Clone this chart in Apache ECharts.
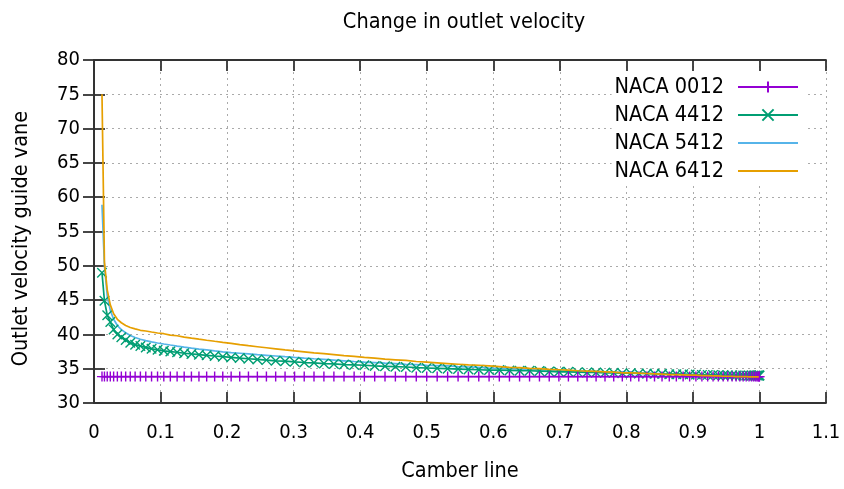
<!DOCTYPE html>
<html>
<head>
<meta charset="utf-8">
<script src="https://cdn.jsdelivr.net/npm/echarts@6/dist/echarts.min.js"></script>
<style>
  html, body { margin: 0; padding: 0; background: #fff; }
  #chart { width: 844px; height: 489px; }
</style>
</head>
<body>
<div id="chart"></div>
<script>
// camber line positions (dense at both ends)
var camber = [
  0.0120, 0.0157, 0.0199, 0.0245, 0.0295, 0.0351, 0.0411, 0.0476, 0.0545, 0.0618,
  0.0697, 0.0778, 0.0865, 0.0955, 0.1049, 0.1147, 0.1249, 0.1355, 0.1464, 0.1577,
  0.1693, 0.1813, 0.1935, 0.2061, 0.2190, 0.2321, 0.2455, 0.2591, 0.2730, 0.2871,
  0.3014, 0.3159, 0.3306, 0.3455, 0.3605, 0.3757, 0.3909, 0.4063, 0.4218, 0.4373,
  0.4529, 0.4686, 0.4843, 0.5000, 0.5157, 0.5314, 0.5471, 0.5627, 0.5782, 0.5937,
  0.6091, 0.6243, 0.6395, 0.6545, 0.6694, 0.6841, 0.6986, 0.7129, 0.7270, 0.7409,
  0.7545, 0.7679, 0.7810, 0.7939, 0.8065, 0.8187, 0.8307, 0.8423, 0.8536, 0.8645,
  0.8751, 0.8853, 0.8951, 0.9045, 0.9135, 0.9222, 0.9303, 0.9382, 0.9455, 0.9524,
  0.9589, 0.9649, 0.9705, 0.9755, 0.9801, 0.9843, 0.9880, 0.9911, 0.9938, 0.9961,
  0.9978, 0.9990, 0.9998, 1.0000
];

var naca0012 = [
  33.85, 33.85, 33.85, 33.85, 33.85, 33.85, 33.85, 33.85, 33.85, 33.85,
  33.85, 33.85, 33.85, 33.85, 33.85, 33.85, 33.85, 33.85, 33.85, 33.85,
  33.85, 33.85, 33.85, 33.85, 33.85, 33.85, 33.85, 33.85, 33.85, 33.85,
  33.85, 33.85, 33.85, 33.85, 33.85, 33.85, 33.85, 33.85, 33.85, 33.85,
  33.85, 33.85, 33.85, 33.85, 33.85, 33.85, 33.85, 33.85, 33.85, 33.85,
  33.85, 33.85, 33.85, 33.85, 33.85, 33.85, 33.85, 33.85, 33.85, 33.85,
  33.85, 33.85, 33.85, 33.85, 33.85, 33.85, 33.85, 33.85, 33.85, 33.85,
  33.85, 33.85, 33.85, 33.85, 33.85, 33.85, 33.85, 33.85, 33.85, 33.85,
  33.85, 33.85, 33.85, 33.85, 33.85, 33.85, 33.85, 33.85, 33.85, 33.85,
  33.85, 33.85, 33.85, 33.85
];

var naca4412 = [
  49.0, 44.9, 42.8, 41.8, 40.7, 40.0, 39.6, 39.2, 38.8, 38.5,
  38.3, 38.1, 37.9, 37.75, 37.6, 37.5, 37.4, 37.25, 37.15, 37.05,
  36.95, 36.85, 36.75, 36.65, 36.55, 36.45, 36.35, 36.25, 36.15, 36.1,
  36.0, 35.9, 35.85, 35.75, 35.7, 35.6, 35.55, 35.5, 35.4, 35.35,
  35.3, 35.25, 35.15, 35.1, 35.05, 35.0, 34.95, 34.9, 34.85, 34.8,
  34.8, 34.75, 34.7, 34.7, 34.65, 34.6, 34.55, 34.55, 34.5, 34.45,
  34.45, 34.4, 34.4, 34.35, 34.35, 34.3, 34.3, 34.25, 34.25, 34.2,
  34.2, 34.2, 34.15, 34.15, 34.1, 34.1, 34.1, 34.05, 34.05, 34.05,
  34.05, 34.0, 34.0, 34.0, 34.0, 34.0, 34.0, 34.0, 34.0, 34.0,
  34.0, 34.0, 34.0, 34.0
];

var naca5412 = [
  58.9, 50.0, 45.6, 43.5, 42.2, 41.3, 40.7, 40.25, 39.85, 39.55,
  39.3, 39.1, 38.9, 38.75, 38.6, 38.45, 38.3, 38.15, 38.0, 37.85,
  37.75, 37.6, 37.45, 37.35, 37.25, 37.15, 37.05, 36.95, 36.85, 36.75,
  36.65, 36.55, 36.45, 36.35, 36.25, 36.15, 36.05, 35.95, 35.9, 35.8,
  35.75, 35.65, 35.6, 35.5, 35.45, 35.4, 35.3, 35.25, 35.2, 35.1,
  35.05, 35.0, 34.95, 34.9, 34.85, 34.8, 34.75, 34.7, 34.65, 34.6,
  34.6, 34.55, 34.5, 34.45, 34.45, 34.4, 34.35, 34.3, 34.3, 34.25,
  34.2, 34.2, 34.15, 34.15, 34.1, 34.1, 34.05, 34.05, 34.0, 34.0,
  34.0, 33.95, 33.95, 33.95, 33.95, 33.9, 33.9, 33.9, 33.9, 33.9,
  33.9, 33.9, 33.9, 33.9
];

var naca6412 = [
  75.0, 50.5, 46.5, 44.3, 43.0, 42.2, 41.7, 41.3, 41.0, 40.8,
  40.6, 40.5, 40.35, 40.2, 40.1, 39.9, 39.8, 39.6, 39.45, 39.3,
  39.15, 39.0, 38.85, 38.7, 38.5, 38.35, 38.2, 38.05, 37.9, 37.75,
  37.6, 37.45, 37.3, 37.2, 37.05, 36.9, 36.8, 36.65, 36.55, 36.4,
  36.3, 36.2, 36.05, 35.95, 35.85, 35.75, 35.65, 35.55, 35.5, 35.4,
  35.3, 35.2, 35.15, 35.05, 35.0, 34.9, 34.85, 34.8, 34.7, 34.65,
  34.6, 34.55, 34.5, 34.4, 34.4, 34.35, 34.3, 34.25, 34.2, 34.15,
  34.15, 34.1, 34.05, 34.05, 34.0, 34.0, 33.95, 33.95, 33.9, 33.9,
  33.9, 33.85, 33.85, 33.85, 33.85, 33.8, 33.8, 33.8, 33.8, 33.8,
  33.8, 33.8, 33.8, 33.8
];

var names = ['NACA 0012', 'NACA 4412', 'NACA 5412', 'NACA 6412'];
var colors = ['#9400d3', '#009e73', '#56b4e9', '#e69f00'];

var FONT = "'DejaVu Sans Condensed', 'DejaVu Sans', sans-serif";
var PLUS = 'path://M5,0L5,10M0,5L10,5';
var CROSS = 'path://M0,0L10,10M10,0L0,10';

function pairs(ys) {
    var out = [];
    for (var i = 0; i < camber.length; i++) {
        out.push([camber[i], ys[i]]);
    }
    return out;
}

function tickLbl(v) {
    return String(Math.round(v * 10) / 10);
}

var axisLine = { lineStyle: { color: '#333', width: 1.8 } };
var axisTick = { inside: true, length: 11, lineStyle: { color: '#333', width: 1.8 } };
var gridLine = { show: true, lineStyle: { color: '#aaa', width: 1, type: [2, 4] } };

var chart = echarts.init(document.getElementById('chart'));
var option = {
    animation: false,
    color: colors,
    title: {
        text: 'Change in outlet velocity',
        left: 459,
        top: 6,
        textAlign: 'center',
        textStyle: { fontFamily: FONT, fontSize: 21.5, fontWeight: 'normal', color: '#000' }
    },
    legend: {
        orient: 'vertical',
        right: 38,
        top: 72,
        align: 'right',
        itemWidth: 60,
        itemHeight: 14,
        itemGap: 6,
        backgroundColor: '#fff',
        padding: [4, 7, 4, 3],
        textStyle: { fontFamily: FONT, fontSize: 21.5, color: '#000', padding: [0, 9, 0, 0] },
        data: [
            names[0],
            names[1],
            { name: names[2], itemStyle: { opacity: 0 } },
            { name: names[3], itemStyle: { opacity: 0 } }
        ]
    },
    grid: { left: 94, right: 18, top: 60, bottom: 86 },
    xAxis: [
        {
            type: 'value', min: 0, max: 1.1, interval: 0.1,
            name: 'Camber line', nameLocation: 'middle', nameGap: 57,
            nameTextStyle: { fontFamily: FONT, fontSize: 21.5, color: '#000' },
            axisLine: axisLine, axisTick: axisTick, splitLine: gridLine,
            axisLabel: { formatter: tickLbl, margin: 20, fontFamily: FONT, fontSize: 20, color: '#000' }
        },
        {
            type: 'value', position: 'top', min: 0, max: 1.1, interval: 0.1,
            axisLine: axisLine, axisTick: axisTick, splitLine: { show: false },
            axisLabel: { show: false }
        }
    ],
    yAxis: [
        {
            type: 'value', min: 30, max: 80, interval: 5,
            name: 'Outlet velocity guide vane', nameLocation: 'middle', nameGap: 62,
            nameTextStyle: { fontFamily: FONT, fontSize: 21.5, color: '#000', padding: [0, 14, 0, 0] },
            axisLine: axisLine, axisTick: axisTick, splitLine: gridLine,
            axisLabel: { margin: 14, fontFamily: FONT, fontSize: 20, color: '#000' }
        },
        {
            type: 'value', position: 'right', min: 30, max: 80, interval: 5,
            axisLine: axisLine, axisTick: axisTick, splitLine: { show: false },
            axisLabel: { show: false }
        }
    ],
    series: [
        {
            name: names[0], type: 'line', data: pairs(naca0012),
            symbol: PLUS, symbolSize: 10,
            lineStyle: { width: 1.7, color: colors[0] },
            itemStyle: { color: colors[0], borderColor: colors[0], borderWidth: 1.4 },
            z: 4
        },
        {
            name: names[1], type: 'line', data: pairs(naca4412),
            symbol: CROSS, symbolSize: 9.5,
            lineStyle: { width: 1.7, color: colors[1] },
            itemStyle: { color: colors[1], borderColor: colors[1], borderWidth: 1.4 },
            z: 3
        },
        {
            name: names[2], type: 'line', data: pairs(naca5412),
            symbol: 'none',
            lineStyle: { width: 1.7, color: colors[2] },
            itemStyle: { color: colors[2] },
            z: 2
        },
        {
            name: names[3], type: 'line', data: pairs(naca6412),
            symbol: 'none',
            lineStyle: { width: 1.7, color: colors[3] },
            itemStyle: { color: colors[3] },
            z: 5
        }
    ]
};
chart.setOption(option);
</script>
</body>
</html>
